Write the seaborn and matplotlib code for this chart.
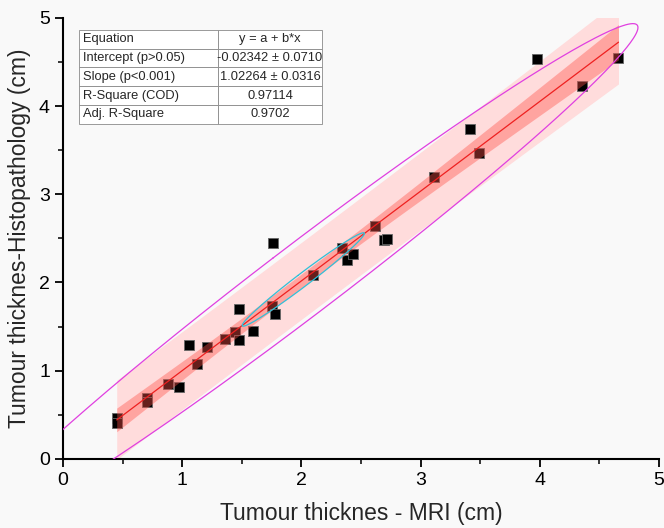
import numpy as np
import pandas as pd
import seaborn as sns
import matplotlib.pyplot as plt
from matplotlib.ticker import MultipleLocator

# MRI vs histopathology tumour thickness (cm)
mri = [0.45, 0.45, 0.70, 0.70, 0.88, 0.97, 1.06, 1.12, 1.21, 1.36,
       1.44, 1.48, 1.59, 1.48, 1.75, 1.78, 1.76, 2.10, 2.34, 2.38,
       2.43, 2.62, 2.69, 2.72, 3.11, 3.41, 3.49, 3.98, 4.35, 4.66]
histo = [0.46, 0.41, 0.69, 0.64, 0.85, 0.82, 1.29, 1.07, 1.27, 1.36,
         1.44, 1.35, 1.45, 1.70, 1.73, 1.64, 2.45, 2.09, 2.39, 2.26,
         2.32, 2.64, 2.48, 2.49, 3.20, 3.74, 3.47, 4.54, 4.23, 4.55]

table_labels = ["Equation", "Intercept (p>0.05)", "Slope (p<0.001)",
                "R-Square (COD)", "Adj. R-Square"]
table_values = ["y = a + b*x", "-0.02342 \u00b1 0.0710", "1.02264 \u00b1 0.0316",
                "0.97114", "0.9702"]

df = pd.DataFrame({"mri": mri, "histo": histo})

sns.set_style("ticks")
plt.rcParams["font.family"] = ["Liberation Sans", "DejaVu Sans"]

fig = plt.figure(figsize=(6.64, 5.28), dpi=100, facecolor="#f9f9f9")
ax = fig.add_axes([0.095, 0.131, 0.8975, 0.835])
ax.set_facecolor("#f9f9f9")

# linear fit + 95% confidence / prediction bands
x = df["mri"].values
y = df["histo"].values
n = len(x)
b, a = np.polyfit(x, y, 1)
resid = y - (a + b * x)
s = np.sqrt(np.sum(resid ** 2) / (n - 2))
sxx = np.sum((x - x.mean()) ** 2)
t = 2.048  # t(0.975, 28)
grid = np.linspace(x.min(), x.max(), 200)
fit = a + b * grid
ci = t * s * np.sqrt(1 / n + (grid - x.mean()) ** 2 / sxx)
pi = t * s * np.sqrt(1 + 1 / n + (grid - x.mean()) ** 2 / sxx)

ax.fill_between(grid, fit - pi, fit + pi, color="#ffdcdc", lw=0, zorder=1)
sns.scatterplot(data=df, x="mri", y="histo", marker="s", s=58, color="black",
                edgecolor="#666666", linewidth=0.6, ax=ax, zorder=2)
ax.fill_between(grid, fit - ci, fit + ci, color="#ff5048", alpha=0.4, lw=0, zorder=3)
sns.lineplot(x=grid, y=fit, color="#ee2020", lw=0.9, ax=ax, zorder=4)

# 95% confidence ellipses (data and mean)
cov = np.cov(x, y)
vals, vecs = np.linalg.eigh(cov)
th = np.linspace(0, 2 * np.pi, 400)
circle = np.vstack([np.cos(th), np.sin(th)])
k = np.sqrt(5.991)
shape = vecs @ np.diag(np.sqrt(vals)) @ circle * k
ax.plot(x.mean() + shape[0], y.mean() + shape[1], color="#e040e0", lw=0.9, zorder=5)
ax.plot(x.mean() + shape[0] / np.sqrt(n), y.mean() + shape[1] / np.sqrt(n),
        color="#30c0d8", lw=0.9, zorder=5)

ax.set_xlim(0, 5)
ax.set_ylim(0, 5)
ax.xaxis.set_major_locator(MultipleLocator(1))
ax.yaxis.set_major_locator(MultipleLocator(1))
ax.xaxis.set_minor_locator(MultipleLocator(0.5))
ax.yaxis.set_minor_locator(MultipleLocator(0.5))
ax.tick_params(which="major", length=6, width=1.3, labelsize=14, colors="black")
ax.tick_params(which="minor", length=3.5, width=1.3)
for side in ["left", "bottom"]:
    ax.spines[side].set_linewidth(1.5)
    ax.spines[side].set_color("black")
sns.despine(ax=ax)
ax.set_xlabel("Tumour thicknes - MRI (cm)", fontsize=16.5, labelpad=9)
ax.set_ylabel("Tumour thicknes-Histopathology (cm)", fontsize=16.5, labelpad=6)

tbl = ax.table(cellText=[[l, v] for l, v in zip(table_labels, table_values)],
               cellLoc="center", bbox=[0.027, 0.76, 0.408, 0.213],
               colWidths=[0.57, 0.43], zorder=6)
tbl.auto_set_font_size(False)
tbl.set_fontsize(9.3)
for (r, c), cell in tbl.get_celld().items():
    cell.set_edgecolor("#8a8a8a")
    cell.set_linewidth(0.6)
    cell.set_facecolor("white")
    if c == 0:
        cell.get_text().set_ha("left")
        cell.PAD = 0.025

plt.savefig("out.png", dpi=100, facecolor=fig.get_facecolor())
